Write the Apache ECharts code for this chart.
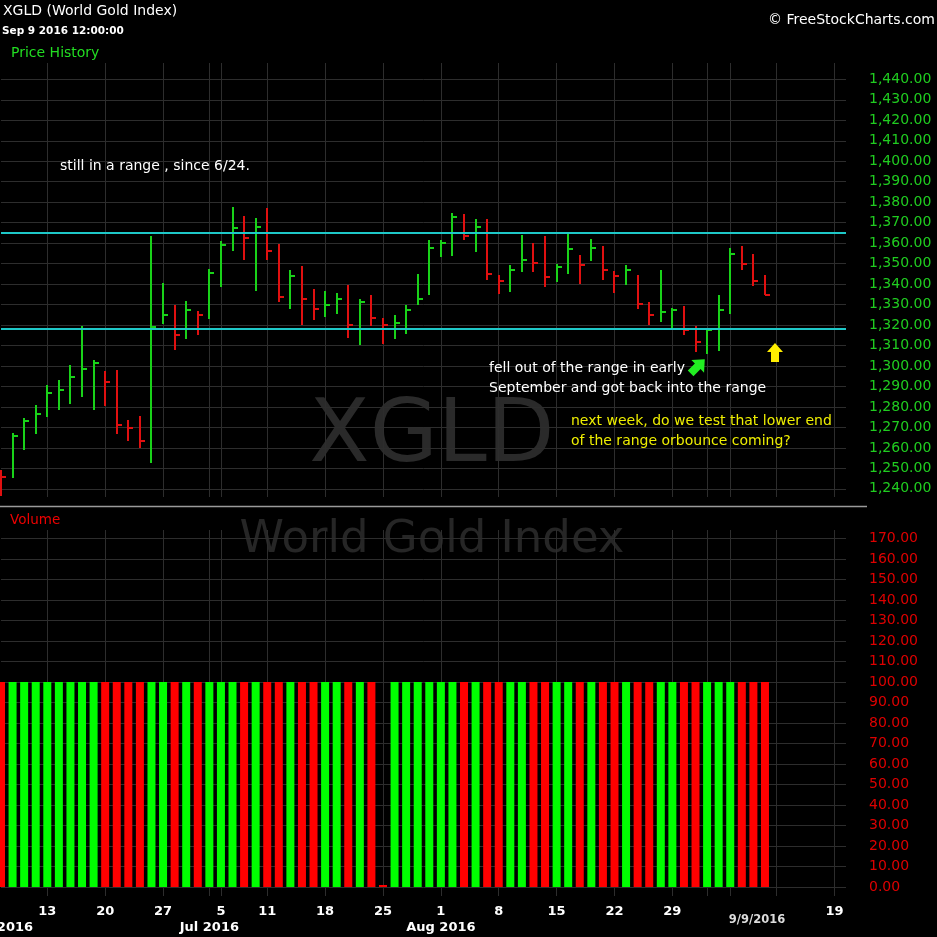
<!DOCTYPE html>
<html>
<head>
<meta charset="UTF-8">
<title>XGLD (World Gold Index)</title>
<style>
  html, body { margin: 0; padding: 0; background: #000; }
  #container { width: 937px; height: 937px; }
</style>
</head>
<body>
<div id="container"></div>
<script src="https://cdn.jsdelivr.net/npm/echarts@6.0.0/dist/echarts.min.js"></script>
<script>
// trading days, Jun 7 .. Sep 9 2016 carry data, the rest is empty space to Sep 20
var dates = [
  '2016-06-07','2016-06-08','2016-06-09','2016-06-10','2016-06-13','2016-06-14','2016-06-15','2016-06-16','2016-06-17',
  '2016-06-20','2016-06-21','2016-06-22','2016-06-23','2016-06-24','2016-06-27','2016-06-28','2016-06-29','2016-06-30',
  '2016-07-01','2016-07-05','2016-07-06','2016-07-07','2016-07-08','2016-07-11','2016-07-12','2016-07-13','2016-07-14',
  '2016-07-15','2016-07-18','2016-07-19','2016-07-20','2016-07-21','2016-07-22','2016-07-25','2016-07-26','2016-07-27',
  '2016-07-28','2016-07-29','2016-08-01','2016-08-02','2016-08-03','2016-08-04','2016-08-05','2016-08-08','2016-08-09',
  '2016-08-10','2016-08-11','2016-08-12','2016-08-15','2016-08-16','2016-08-17','2016-08-18','2016-08-19','2016-08-22',
  '2016-08-23','2016-08-24','2016-08-25','2016-08-26','2016-08-29','2016-08-30','2016-08-31','2016-09-01','2016-09-02',
  '2016-09-06','2016-09-07','2016-09-08','2016-09-09','2016-09-12','2016-09-13','2016-09-14','2016-09-15','2016-09-16',
  '2016-09-19','2016-09-20'
];

var highs = [
  1249.1, 1267.5, 1274.8, 1280.8, 1290.6, 1293.0, 1300.3, 1319.4, 1302.8, 1297.4,
  1297.9, 1273.5, 1275.5, 1363.3, 1340.5, 1329.6, 1331.6, 1326.7, 1347.5, 1361.0,
  1377.9, 1373.5, 1372.4, 1377.3, 1359.4, 1346.7, 1348.6, 1337.6, 1336.4, 1335.8,
  1339.4, 1332.7, 1334.5, 1323.6, 1324.7, 1329.6, 1344.9, 1361.3, 1361.3, 1374.8,
  1374.0, 1371.7, 1371.6, 1344.2, 1349.1, 1363.8, 1360.0, 1363.3, 1350.0, 1364.9,
  1354.0, 1361.8, 1358.4, 1346.2, 1349.1, 1344.2, 1331.2, 1346.7, 1328.5, 1329.1,
  1319.4, 1318.2, 1334.5, 1357.8, 1358.4, 1354.8, 1344.2
];
var lows = [
  1236.6, 1245.1, 1259.2, 1267.0, 1275.1, 1278.7, 1281.2, 1284.9, 1278.7, 1280.5,
  1267.0, 1263.4, 1259.7, 1252.4, 1320.7, 1308.0, 1313.4, 1315.3, 1323.1, 1338.5,
  1356.1, 1351.9, 1336.6, 1351.9, 1331.2, 1328.0, 1320.2, 1322.6, 1323.9, 1325.6,
  1313.5, 1310.4, 1319.5, 1310.9, 1313.4, 1315.8, 1330.0, 1334.6, 1353.2, 1353.9,
  1361.4, 1355.5, 1342.1, 1335.3, 1336.1, 1345.9, 1345.9, 1338.5, 1341.0, 1345.1,
  1340.2, 1351.2, 1342.1, 1335.6, 1339.4, 1328.0, 1319.9, 1321.5, 1317.4, 1315.0,
  1306.8, 1305.7, 1307.3, 1325.6, 1347.0, 1338.9, 1334.5
];
var closes = [
  1246.0, 1265.6, 1272.9, 1276.6, 1287.0, 1288.1, 1294.8, 1298.5, 1301.5, 1292.4,
  1271.1, 1269.8, 1263.3, 1319.0, 1324.7, 1315.0, 1327.2, 1324.7, 1345.6, 1359.0,
  1367.3, 1362.4, 1368.1, 1356.3, 1333.7, 1344.1, 1332.7, 1327.8, 1329.6, 1332.7,
  1319.9, 1331.4, 1323.6, 1319.9, 1321.0, 1327.2, 1332.7, 1357.8, 1360.0, 1372.9,
  1363.3, 1368.0, 1344.7, 1341.7, 1347.0, 1352.0, 1350.2, 1343.4, 1348.3, 1356.9,
  1349.1, 1357.4, 1346.7, 1343.8, 1346.7, 1330.4, 1324.7, 1326.3, 1327.5, 1317.4,
  1311.7, 1317.4, 1327.2, 1354.8, 1350.0, 1341.5, 1334.5
];
var volumes = [
  100, 100, 100, 100, 100, 100, 100, 100, 100, 100,
  100, 100, 100, 100, 100, 100, 100, 100, 100, 100,
  100, 100, 100, 100, 100, 100, 100, 100, 100, 100,
  100, 100, 100, 0, 100, 100, 100, 100, 100, 100,
  100, 100, 100, 100, 100, 100, 100, 100, 100, 100,
  100, 100, 100, 100, 100, 100, 100, 100, 100, 100,
  100, 100, 100, 100, 100, 100, 100
];
var prevClose = 1250.0;   // close of Jun 6, only used to colour the first bar

var gridDates = ['2016-06-13','2016-06-20','2016-06-27','2016-07-01','2016-07-05','2016-07-11','2016-07-18',
  '2016-07-25','2016-08-01','2016-08-08','2016-08-15','2016-08-22','2016-08-29','2016-09-01','2016-09-06',
  '2016-09-12','2016-09-19'];
var dayTicks = [['2016-06-13','13'],['2016-06-20','20'],['2016-06-27','27'],['2016-07-05','5'],['2016-07-11','11'],
  ['2016-07-18','18'],['2016-07-25','25'],['2016-08-01','1'],['2016-08-08','8'],['2016-08-15','15'],
  ['2016-08-22','22'],['2016-08-29','29'],['2016-09-09','9/9/2016'],['2016-09-19','19']];
var monthTicks = [['2016-06-07','Jun 2016'],['2016-07-01','Jul 2016'],['2016-08-01','Aug 2016']];
var priceTicks = [1240, 1250, 1260, 1270, 1280, 1290, 1300, 1310, 1320, 1330, 1340,
  1350, 1360, 1370, 1380, 1390, 1400, 1410, 1420, 1430, 1440];
var volumeTicks = [0, 10, 20, 30, 40, 50, 60, 70, 80, 90, 100, 110, 120, 130, 140, 150, 160, 170];
var rangeLines = [1365, 1318];
var lastPrice = 1334.5;
var lastVolume = 100;

var FONT = '"DejaVu Sans", Verdana, sans-serif';
var UP = '#19d219', DOWN = '#e01010';
var UP_VOL = '#00ff00', DOWN_VOL = '#ff0000';
var GRID = '#2d2d2d';

function fmtNum(v) {
  var parts = v.toFixed(2).split('.');
  parts[0] = parts[0].replace(/\B(?=(\d{3})+(?!\d))/g, ',');
  return parts.join('.');
}

var dirs = closes.map(function (c, i) {
  var p = i === 0 ? prevClose : closes[i - 1];
  return c >= p ? 1 : -1;
});
var priceData = closes.map(function (c, i) { return [i, highs[i], lows[i], c, dirs[i]]; });
var volData = volumes.map(function (v, i) {
  return { value: v, itemStyle: { color: dirs[i] > 0 ? UP_VOL : DOWN_VOL } };
});

var gridIdx = gridDates.map(function (d) { return dates.indexOf(d); });
var dayMap = {}, monthMap = {};
dayTicks.forEach(function (t) { dayMap[t[0]] = t[1]; });
monthTicks.forEach(function (t) { monthMap[t[0]] = t[1]; });

function renderPriceBar(params, api) {
  var i = api.value(0);
  var pH = api.coord([i, api.value(1)]);
  var pL = api.coord([i, api.value(2)]);
  var pC = api.coord([i, api.value(3)]);
  var color = api.value(4) > 0 ? UP : DOWN;
  var x = Math.round(pH[0]);
  var yc = Math.round(pC[1]);
  return {
    type: 'group',
    children: [
      { type: 'line', shape: { x1: x, y1: Math.round(pH[1]), x2: x, y2: Math.round(pL[1]) },
        style: { stroke: color, lineWidth: 2 } },
      { type: 'line', shape: { x1: x, y1: yc, x2: x + 5, y2: yc },
        style: { stroke: color, lineWidth: 2 } }
    ]
  };
}

var boxLabel = {
  show: true, position: 'end', distance: 22,
  color: '#ffffff', fontSize: 14, fontFamily: FONT,
  backgroundColor: '#000', borderColor: '#b4b4b4', borderWidth: 1, borderRadius: 3,
  padding: [2, 2, 1, 3]
};

var myChart = echarts.init(document.getElementById('container'));
var option = {
  backgroundColor: '#000',
  animation: false,
  grid: [
    { left: 1, width: 845, top: 63, height: 434, outerBoundsMode: 'none' },
    { left: 1, width: 845, top: 530, height: 366, outerBoundsMode: 'none' }
  ],
  xAxis: [
    {
      type: 'category', gridIndex: 0, data: dates, boundaryGap: false,
      axisLine: { show: false }, axisTick: { show: false }, axisLabel: { show: false },
      splitLine: { show: true, interval: function (i) { return gridIdx.indexOf(i) >= 0; },
        lineStyle: { color: GRID } }
    },
    {
      type: 'category', gridIndex: 1, data: dates, boundaryGap: false,
      axisLine: { show: false }, axisTick: { show: false },
      axisLabel: {
        interval: function (i, v) { return dayMap[v] !== undefined; },
        formatter: function (v) {
          return v === '2016-09-09' ? '{d|' + dayMap[v] + '}' : dayMap[v];
        },
        color: '#fff', fontSize: 13, fontWeight: 'bold', fontFamily: FONT, margin: 9,
        rich: { d: { fontSize: 11.5, color: '#dcdcdc', fontFamily: FONT, padding: [9, 16, 0, 0] } }
      },
      splitLine: { show: true, interval: function (i) { return gridIdx.indexOf(i) >= 0; },
        lineStyle: { color: GRID } }
    },
    {
      type: 'category', gridIndex: 1, data: dates, boundaryGap: false, position: 'bottom', offset: 16,
      axisLine: { show: false }, axisTick: { show: false }, splitLine: { show: false },
      axisLabel: {
        interval: function (i, v) { return monthMap[v] !== undefined; },
        formatter: function (v) { return monthMap[v]; },
        color: '#fff', fontSize: 13, fontWeight: 'bold', fontFamily: FONT, margin: 9
      }
    }
  ],
  yAxis: [
    {
      type: 'value', gridIndex: 0, position: 'right', min: 1236, max: 1448,
      axisLine: { show: false },
      axisTick: { show: false, customValues: priceTicks },
      axisLabel: { customValues: priceTicks, formatter: fmtNum, color: '#20cc20',
        fontSize: 14, fontFamily: FONT, margin: 23, align: 'left' },
      splitLine: { show: true, lineStyle: { color: GRID } }
    },
    {
      type: 'value', gridIndex: 1, position: 'right', min: -4.4, max: 174.1,
      axisLine: { show: false },
      axisTick: { show: false, customValues: volumeTicks },
      axisLabel: { customValues: volumeTicks, formatter: function (v) { return v.toFixed(2); },
        color: '#dd0000', fontSize: 14, fontFamily: FONT, margin: 23, align: 'left' },
      splitLine: { show: true, lineStyle: { color: GRID } }
    }
  ],
  series: [
    {
      name: 'XGLD', type: 'custom', xAxisIndex: 0, yAxisIndex: 0,
      renderItem: renderPriceBar, data: priceData, encode: { x: 0, y: [1, 2, 3] },
      markLine: {
        silent: true, symbol: ['none', 'none'],
        data: [
          { yAxis: rangeLines[0], lineStyle: { color: '#1ec8c8', width: 2, type: 'solid' }, label: { show: false } },
          { yAxis: rangeLines[1], lineStyle: { color: '#1ec8c8', width: 2, type: 'solid' }, label: { show: false } },
          { yAxis: lastPrice, lineStyle: { opacity: 0 },
            label: Object.assign({}, boxLabel, { formatter: fmtNum(lastPrice) }) }
        ]
      }
    },
    {
      name: 'Volume', type: 'bar', xAxisIndex: 1, yAxisIndex: 1,
      data: volData, barWidth: 8, barMinHeight: 2,
      markLine: {
        silent: true, symbol: ['none', 'none'],
        data: [
          { yAxis: lastVolume, lineStyle: { opacity: 0 },
            label: Object.assign({}, boxLabel, { formatter: lastVolume.toFixed(2) }) }
        ]
      }
    }
  ],
  graphic: [
    // watermarks
    { type: 'text', z: -10, x: 432, y: 438, style: { text: 'XGLD', fill: '#2a2a2a',
      font: '88px ' + FONT, align: 'center', verticalAlign: 'middle' } },
    { type: 'text', z: -10, x: 432, y: 540, style: { text: 'World Gold Index', fill: '#262626',
      font: '45px ' + FONT, align: 'center', verticalAlign: 'middle' } },
    // header
    { type: 'text', x: 3, y: 11, style: { text: 'XGLD (World Gold Index)', fill: '#fff',
      font: '14px ' + FONT, verticalAlign: 'middle' } },
    { type: 'text', x: 2, y: 31, style: { text: 'Sep 9 2016 12:00:00', fill: '#fff',
      font: 'bold 10.5px ' + FONT, verticalAlign: 'middle' } },
    { type: 'text', x: 11, y: 53, style: { text: 'Price History', fill: '#22dd22',
      font: '14px ' + FONT, verticalAlign: 'middle' } },
    { type: 'text', x: 935, y: 20, style: { text: '\u00a9 FreeStockCharts.com', fill: '#fff',
      font: '14px ' + FONT, align: 'right', verticalAlign: 'middle' } },
    // panel separator
    { type: 'line', shape: { x1: 0, y1: 506.5, x2: 867, y2: 506.5 }, style: { stroke: '#9a9a9a', lineWidth: 1.5 } },
    { type: 'text', x: 10, y: 520, style: { text: 'Volume', fill: '#ee0000',
      font: '13.5px ' + FONT, verticalAlign: 'middle' } },
    // notes
    { type: 'text', z: 100, x: 60, y: 166, style: { text: 'still in a range , since 6/24.', fill: '#fff',
      font: '14px ' + FONT, verticalAlign: 'middle' } },
    { type: 'text', z: 100, x: 489, y: 368, style: { text: 'fell out of the range in early', fill: '#fff',
      font: '14px ' + FONT, verticalAlign: 'middle' } },
    { type: 'text', z: 100, x: 489, y: 388, style: { text: 'September and got back into the range', fill: '#fff',
      font: '14px ' + FONT, verticalAlign: 'middle' } },
    { type: 'text', z: 100, x: 571, y: 421, style: { text: 'next week, do we test that lower end', fill: '#eeee00',
      font: '14px ' + FONT, verticalAlign: 'middle' } },
    { type: 'text', z: 100, x: 571, y: 441, style: { text: 'of the range orbounce coming?', fill: '#eeee00',
      font: '14px ' + FONT, verticalAlign: 'middle' } },
    { type: 'polygon', z: 100, x: 697, y: 367, rotation: -Math.PI / 4,
      shape: { points: [[0, -11], [9, -1], [4, -1], [4, 9], [-4, 9], [-4, -1], [-9, -1]] },
      style: { fill: '#22ee22' } },
    { type: 'polygon', z: 100, x: 775, y: 352,
      shape: { points: [[0, -9], [8, 0], [4, 0], [4, 10], [-4, 10], [-4, 0], [-8, 0]] },
      style: { fill: '#ffee00' } }
  ]
};

if (option && typeof option === 'object') {
  myChart.setOption(option, true);
}
</script>
</body>
</html>
